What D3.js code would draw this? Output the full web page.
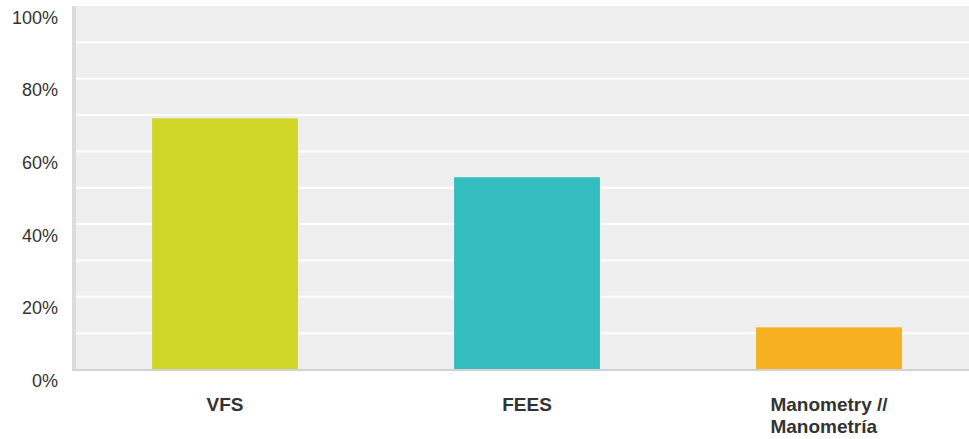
<!DOCTYPE html>
<html>
<head>
<meta charset="utf-8">
<script src="https://cdn.jsdelivr.net/npm/d3@7"></script>
<style>
  body { margin: 0; background: #fff; }
  svg { display: block; font-family: "Liberation Sans", Arial, sans-serif; }
</style>
</head>
<body>
<svg id="chart" width="969" height="439"></svg>
<script>
// DATA
const categories = ["VFS", "FEES", "Manometry // Manometría"];
const labelLines = [["VFS"], ["FEES"], ["Manometry //", "Manometría"]];
const values = [0.691, 0.529, 0.116];
const colors = ["#cfd628", "#35bec0", "#f6b021"];
const yTicks = [0, 0.2, 0.4, 0.6, 0.8, 1];
const yGrid = [0.1, 0.2, 0.3, 0.4, 0.5, 0.6, 0.7, 0.8, 0.9];

const svg = d3.select("#chart");
const width = +svg.attr("width"),
  height = +svg.attr("height");

// CANVAS SETUP
const plot = { left: 72, right: 969, top: 6, bottom: 369.5 };

const x = d3.scaleBand()
  .domain(categories)
  .range([74, 980])
  .paddingInner(0.517)
  .paddingOuter(0.2585);

const y = d3.scaleLinear().domain([0, 1]).range([plot.bottom, plot.top]);

// background
svg.append("rect")
  .attr("x", plot.left)
  .attr("y", plot.top)
  .attr("width", plot.right - plot.left)
  .attr("height", plot.bottom - plot.top)
  .attr("fill", "#efefef");

// gridlines
svg.append("g")
  .selectAll("line")
  .data(yGrid)
  .join("line")
  .attr("x1", plot.left)
  .attr("x2", plot.right)
  .attr("y1", (d) => y(d))
  .attr("y2", (d) => y(d))
  .attr("stroke", "#fff")
  .attr("stroke-width", 2);

// bars
svg.append("g")
  .selectAll("rect")
  .data(values)
  .join("rect")
  .attr("x", (d, i) => x(categories[i]))
  .attr("y", (d) => y(d))
  .attr("width", x.bandwidth())
  .attr("height", (d) => y(0) - y(d))
  .attr("fill", (d, i) => colors[i]);

// left + bottom borders
svg.append("line")
  .attr("x1", plot.left + 2).attr("x2", plot.left + 2)
  .attr("y1", plot.top).attr("y2", plot.bottom + 1)
  .attr("stroke", "#dcdcdc").attr("stroke-width", 4);
svg.append("line")
  .attr("x1", plot.left).attr("x2", plot.right)
  .attr("y1", plot.bottom + 0.5).attr("y2", plot.bottom + 0.5)
  .attr("stroke", "#d2d2d2").attr("stroke-width", 2);

// y axis labels
svg.append("g")
  .selectAll("text")
  .data(yTicks)
  .join("text")
  .attr("x", 58)
  .attr("y", (d) => y(d) + 17.5)
  .attr("text-anchor", "end")
  .attr("fill", "#333")
  .attr("font-size", 18)
  .text((d) => d3.format(".0%")(d));

// x axis labels, wrapped lines share the first line's left edge
const xl = svg.append("g")
  .selectAll("text")
  .data(categories)
  .join("text")
  .attr("fill", "#333")
  .attr("font-size", 19)
  .attr("font-weight", "bold")
  .attr("y", 411);

xl.each(function (d, i) {
  const t = d3.select(this);
  const cx = x(d) + x.bandwidth() / 2;
  const lines = labelLines[i];
  const tmp = t.append("tspan").text(lines[0]);
  const w = tmp.node().getComputedTextLength();
  tmp.remove();
  const x0 = cx - w / 2;
  lines.forEach((line, j) => {
    t.append("tspan")
      .attr("x", x0)
      .attr("dy", j === 0 ? 0 : 22)
      .text(line);
  });
});
</script>
</body>
</html>
